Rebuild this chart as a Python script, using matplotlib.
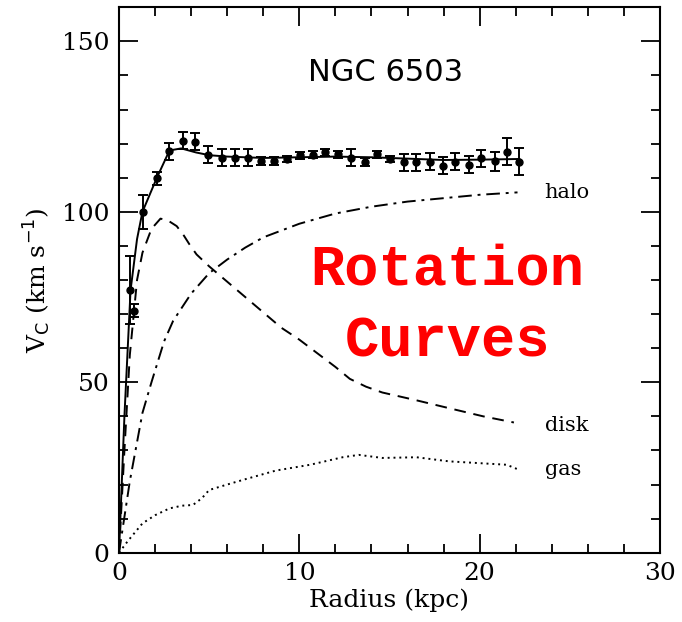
import matplotlib
matplotlib.use("Agg")
import matplotlib.pyplot as plt
import numpy as np

# Observed rotation velocities
obs_r = [0.6, 0.85, 1.32, 2.10, 2.80, 3.54, 4.24, 4.95, 5.72, 6.42, 7.14, 7.89, 8.59,
         9.33, 10.05, 10.75, 11.45, 12.14, 12.88, 13.62, 14.3, 15.04, 15.78, 16.48,
         17.22, 17.96, 18.65, 19.4, 20.09, 20.83, 21.5, 22.2]
obs_v = [77, 71, 100, 109.8, 117.7, 120.8, 120.6, 116.7, 115.8, 115.8, 115.8, 114.8, 114.8,
         115.5, 116.6, 116.7, 117.4, 116.9, 115.8, 114.7, 116.9, 115.5, 114.5, 114.5,
         114.7, 113.5, 114.7, 113.8, 115.7, 114.8, 117.6, 114.7]
obs_err = [10, 2, 5, 2, 2.5, 2.5, 2.5, 2.5, 2.5, 2.5, 2.5, 1.2, 1.2,
           1, 1, 1, 1, 1, 2.5, 1.2, 1, 1, 2.5, 2.5,
           2.5, 2.5, 2.5, 2.5, 2.5, 2.8, 4, 4]

# Total model curve
tot_r = [0, 0.3, 0.64, 1.0, 1.3, 2.1, 2.8, 3.45, 4.28, 5.02, 6, 8, 10, 12, 14, 16, 18, 20, 22.2]
tot_v = [0, 40, 77, 92, 100, 110, 118, 118.6, 117.4, 116.6, 116.2, 115.8, 116, 116.2, 116,
         115.6, 115.2, 115.3, 115.5]

# Disk component
disk_r = [0, 0.3, 0.6, 1.0, 1.3, 1.8, 2.3, 2.7, 3.2, 3.6, 3.9, 4.3, 5, 6, 7, 8, 9, 10, 11,
          12, 12.8, 13.7, 14.6, 16.5, 18.3, 20.2, 21.9]
disk_v = [0, 30, 58, 80, 88, 95, 98, 97.5, 95.8, 93, 90.5, 87.5, 84, 79.5, 75, 70.5, 66,
          62.5, 58.5, 54.5, 51, 48.7, 47, 44.7, 42.4, 40, 38.2]

# Halo component
halo_r = [0, 0.6, 1.3, 1.8, 2.5, 3, 4, 5, 6, 7, 8, 10, 12, 14, 16, 18, 20, 22.1]
halo_v = [0, 21, 41, 50, 62, 68, 76, 82, 86, 89.5, 92.5, 96.5, 99.5, 101.5, 103, 104,
          105, 105.7]

# Gas component
gas_r = [0, 0.5, 1.3, 2, 2.8, 3.5, 4.1, 4.6, 5.0, 6, 6.9, 8.7, 10.6, 12.4, 13.3, 14.6,
         16.5, 18.3, 21.5, 22.1]
gas_v = [0, 3.5, 8.6, 11, 13, 13.8, 14, 16, 18.4, 20, 21.4, 24.1, 25.8, 28, 28.7, 27.8,
         28, 26.8, 25.8, 24.5]

fig = plt.figure(figsize=(6.82, 6.22), dpi=100)
ax = fig.add_axes([0.1745, 0.1114, 0.7932, 0.8769])

serif = "DejaVu Serif"
lw = 1.4
ax.plot(tot_r, tot_v, color="black", lw=lw, ls="-")
ax.plot(disk_r, disk_v, color="black", lw=lw, ls=(0, (6, 4)))
ax.plot(halo_r, halo_v, color="black", lw=lw, ls=(0, (7, 3, 1.5, 3)))
ax.plot(gas_r, gas_v, color="black", lw=lw, ls=(0, (1, 2)))
ax.errorbar(obs_r, obs_v, yerr=obs_err, fmt="o", color="black", ms=5,
            capsize=3.5, elinewidth=1.4, capthick=1.4)

ax.set_xlim(0, 30)
ax.set_ylim(0, 160)
ax.set_xticks([0, 10, 20, 30])
ax.set_xticks(np.arange(0, 31, 2), minor=True)
ax.set_yticks([0, 50, 100, 150])
ax.set_yticks(np.arange(0, 161, 10), minor=True)
ax.tick_params(which="both", direction="in", top=True, right=True, width=1.3)
ax.tick_params(which="major", length=13.5, labelsize=18, pad=7)
ax.tick_params(which="minor", length=6.5)
for lab in ax.get_xticklabels() + ax.get_yticklabels():
    lab.set_family(serif)
for s in ax.spines.values():
    s.set_linewidth(1.5)

ax.set_xlabel("Radius (kpc)", fontsize=18, family=serif, labelpad=2)
ax.set_ylabel(r"V$_{\mathrm{C}}$ (km s$^{-1}$)", fontsize=18, family=serif, labelpad=6)

ax.text(14.8, 141, "NGC 6503", fontsize=22, ha="center", va="center", family="DejaVu Sans")
ax.text(23.6, 105.8, "halo", fontsize=15, ha="left", va="center", family=serif)
ax.text(23.6, 37.3, "disk", fontsize=15, ha="left", va="center", family=serif)
ax.text(23.6, 24.5, "gas", fontsize=15, ha="left", va="center", family=serif)

ax.text(18.2, 83, "Rotation", fontsize=41, ha="center", va="center", color="#ff0000",
        family="Liberation Mono", fontweight="bold")
ax.text(18.2, 62, "Curves", fontsize=41, ha="center", va="center", color="#ff0000",
        family="Liberation Mono", fontweight="bold")

fig.savefig("out.png", dpi=100)
